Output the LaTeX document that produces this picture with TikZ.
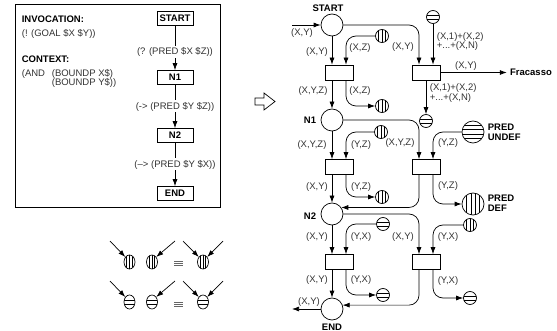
\documentclass[tikz,border=0pt]{standalone}
\usepackage{fontspec}
\setmainfont{Liberation Sans}
\usetikzlibrary{arrows.meta,shapes.geometric}
\begin{document}
\begin{tikzpicture}[x=1pt,y=-1pt, line width=0.7pt,
  font=\fontsize{9.5}{9.5}\selectfont,
  >={Latex[length=7pt,width=5pt]},
  lbl/.style={text=black!80, inner sep=0.5pt},
  bl/.style={font=\fontsize{9.5}{10}\selectfont\bfseries, inner sep=0.5pt},
  rc/.style={rounded corners=10pt},
  pl/.style={circle, draw, minimum size=22pt, inner sep=0pt},
  tr/.style={draw, minimum width=28pt, minimum height=15pt, inner sep=0pt},
  lbox/.style={draw, minimum width=36pt, minimum height=14pt, inner sep=0pt, font=\fontsize{9.5}{10}\selectfont\bfseries},
  vst/.style 2 args={path picture={\foreach \o in {#1}{\draw[line width=0.6pt] ([xshift=\o*#2,yshift=-20pt]path picture bounding box.center) -- ++(0,40pt);}}},
  hst/.style 2 args={path picture={\foreach \o in {#1}{\draw[line width=0.6pt] ([yshift=\o*#2,xshift=-20pt]path picture bounding box.center) -- ++(40pt,0);}}},
  sm/.style={circle, draw, minimum size=13pt, inner sep=0pt},
  bg/.style={circle, draw, minimum size=22pt, inner sep=0pt},
  vs/.style={sm, vst={-0.5,0,0.5}{6.5pt}},
  hs/.style={sm, hst={-0.3,0.3}{6.5pt}},
  vb/.style={bg, vst={-0.6,-0.2,0.2,0.6}{11pt}},
  hb/.style={bg, hst={-0.6,-0.2,0.2,0.6}{11pt}},
  lv/.style={ellipse, draw, minimum width=11pt, minimum height=14pt, inner sep=0pt, vst={-0.5,0,0.5}{5.5pt}},
  lh/.style={ellipse, draw, minimum width=11pt, minimum height=14pt, inner sep=0pt, hst={-0.3,0.3}{7pt}},
  eqv/.style={draw=black!60, line width=0.8pt}
]
\useasboundingbox (0,0) rectangle (557,331);

% ---------------- left panel ----------------
\draw (15,4) rectangle (220,207);
\node[bl, anchor=west] (inv) at (21,19) {INVOCATION:};
\node[lbl, anchor=west] (goal) at (21,34) {(! (GOAL \$X \$Y))};
\node[bl, anchor=west] (ctx) at (21,59) {CONTEXT:};
\node[lbl, anchor=west] (and) at (21,74) {(AND};
\node[lbl, anchor=west] (bx) at (51,74) {(BOUNDP X\$)};
\node[lbl, anchor=west] (by) at (51,83) {(BOUNDP Y\$))};

\node[lbox] (ls) at (175,18.5) {START};
\node[lbox] (l1) at (175,77.5) {N1};
\node[lbox] (l2) at (175,135.5) {N2};
\node[lbox] (le) at (175,193.5) {END};
\draw[->] (ls) -- node[pos=0.6, lbl, fill=white, inner sep=1.5pt] {(? (PRED \$X \$Z))} (l1);
\draw[->] (l1) -- node[pos=0.5, lbl, fill=white, inner sep=1.5pt] {(-> (PRED \$Y \$Z))} (l2);
\draw[->] (l2) -- node[pos=0.5, lbl, fill=white, inner sep=1.5pt] {(\textendash> (PRED \$Y \$X))} (le);

% ---------------- hollow arrow ----------------
\draw (255,98) -- (264,98) -- (264,93) -- (275,101.5) -- (264,110) -- (264,105) -- (255,105) -- cycle;

% ---------------- legend ----------------
\node[lv] (a1) at (129.5,262) {};
\node[lv] (a2) at (152,262) {};
\node[lv] (a3) at (203,262) {};
\coordinate (p1) at (110,241);
\coordinate (p2) at (175,241);
\coordinate (p3) at (183,241);
\coordinate (p4) at (223,241);
\draw[->] (p1) -- (a1.130);
\draw[->] (p2) -- (a2.50);
\draw[->] (p3) -- (a3.130);
\draw[->] (p4) -- (a3.50);
\draw[eqv] (174,261.5) -- (183,261.5) (174,263.3) -- (183,263.3) (174,265.1) -- (183,265.1);

\node[lh] (b1) at (129.5,302) {};
\node[lh] (b2) at (152,302) {};
\node[lh] (b3) at (203,302) {};
\coordinate (q1) at (110,281);
\coordinate (q2) at (175,281);
\coordinate (q3) at (183,281);
\coordinate (q4) at (223,281);
\draw[->] (q1) -- (b1.130);
\draw[->] (q2) -- (b2.50);
\draw[->] (q3) -- (b3.130);
\draw[->] (q4) -- (b3.50);
\draw[eqv] (174,302.5) -- (183,302.5) (174,304.3) -- (183,304.3) (174,306.1) -- (183,306.1);

% ---------------- Petri net ----------------
\node[pl] (s) at (332,25) {};
\node[pl] (n1) at (332,120) {};
\node[pl] (n2) at (332,214) {};
\node[pl] (e) at (332,309) {};
\node[tr] (t1) at (339,72.5) {};
\node[tr] (t2) at (426,72.5) {};
\node[tr] (t3) at (339,167) {};
\node[tr] (t4) at (426,167) {};
\node[tr] (t5) at (339,262) {};
\node[tr] (t6) at (426,262) {};

\node[vs] (v1) at (382,36) {};
\node[vs] (v2) at (382,106) {};
\node[hs] (h1) at (433,17) {};
\node[hs] (h2) at (426,121) {};
\node[vs] (v3) at (381,132) {};
\node[hb] (U) at (473,132) {};
\node[vs] (v4) at (382,197) {};
\node[vb] (D) at (473,204) {};
\node[hs] (h3) at (383,224) {};
\node[vs] (v5) at (470,225) {};
\node[hs] (h4) at (383,295) {};
\node[hs] (h5) at (470,298) {};

\coordinate (in) at (292,25);
\coordinate (out) at (292,309);
\node[bl, inner sep=3pt] (fr) at (531,72.5) {Fracasso};

\node[bl] (sl) at (328,8) {START};
\node[bl] (n1l) at (310,120) {N1};
\node[bl] (n2l) at (310,216) {N2};
\node[bl] (el) at (332,327) {END};
\node[bl, anchor=west, align=left] (ul) at (487,132) {PRED\\UNDEF};
\node[bl, anchor=west, align=left] (dl) at (487,203) {PRED\\DEF};

\draw[->] (in) -- (s);
\draw[->] (s) -- ([xshift=-7pt]t1.north);
\draw[->,rc] (v1) -| ([xshift=7pt]t1.north);
\draw[->,rc] (s) -| ([xshift=-7pt]t2.north);
\draw[->] (h1) -- ([xshift=7pt]t2.north);
\draw[->] (t2) -- (fr);
\draw[->] (t2) -- (h2);
\draw[->] ([xshift=-7pt]t1.south) -- (n1);
\draw[->,rc] ([xshift=7pt]t1.south) |- (v2);
\draw[->] (n1) -- ([xshift=-7pt]t3.north);
\draw[->,rc] (v3) -| ([xshift=7pt]t3.north);
\draw[->,rc] (n1) -| ([xshift=-7pt]t4.north);
\draw[->,rc] (U) -| ([xshift=7pt]t4.north);
\draw[->] ([xshift=-7pt]t3.south) -- (n2);
\draw[->,rc] ([xshift=7pt]t3.south) |- (v4);
\draw[->,rc] ([xshift=7pt]t4.south) |- (D);
\draw[->,rc] ([xshift=-7pt]t4.south) |- (n2.35);
\draw[->] (n2) -- ([xshift=-7pt]t5.north);
\draw[->,rc] (h3) -| ([xshift=7pt]t5.north);
\draw[->,rc] (n2) -| ([xshift=-7pt]t6.north);
\draw[->,rc] (v5) -| ([xshift=7pt]t6.north);
\draw[->] ([xshift=-7pt]t5.south) -- (e);
\draw[->,rc] ([xshift=7pt]t5.south) |- (h4);
\draw[->,rc] ([xshift=7pt]t6.south) |- (h5);
\draw[->,rc] ([xshift=-7pt]t6.south) |- (e.20);
\draw[->] (e) -- (out);

% edge labels
\node[lbl] at (302,33) {(X,Y)};
\node[lbl] at (317,52) {(X,Y)};
\node[lbl] at (360,48) {(X,Z)};
\node[lbl] at (403,47) {(X,Y)};
\node[lbl, anchor=west, align=left] at (436,41.5) {(X,1)+(X,2)\\+...+(X,N)};
\node[lbl] at (466,66) {(X,Y)};
\node[lbl, anchor=west, align=left] at (429,93) {(X,1)+(X,2)\\+...+(X,N)};
\node[lbl] at (313,91) {(X,Y,Z)};
\node[lbl] at (360,91) {(X,Z)};
\node[lbl] at (312,145) {(X,Y,Z)};
\node[lbl] at (361,145) {(Y,Z)};
\node[lbl] at (400,143) {(X,Y,Z)};
\node[lbl] at (448,143) {(Y,Z)};
\node[lbl] at (317,187) {(X,Y)};
\node[lbl] at (361,187) {(Y,Z)};
\node[lbl] at (448,186) {(Y,Z)};
\node[lbl] at (317,237) {(X,Y)};
\node[lbl] at (361,237) {(Y,X)};
\node[lbl] at (403,237) {(X,Y)};
\node[lbl] at (448,237) {(Y,X)};
\node[lbl] at (317,280) {(X,Y)};
\node[lbl] at (361,280) {(Y,X)};
\node[lbl] at (448,281) {(Y,X)};
\node[lbl] at (309,302) {(X,Y)};
\end{tikzpicture}
\end{document}
